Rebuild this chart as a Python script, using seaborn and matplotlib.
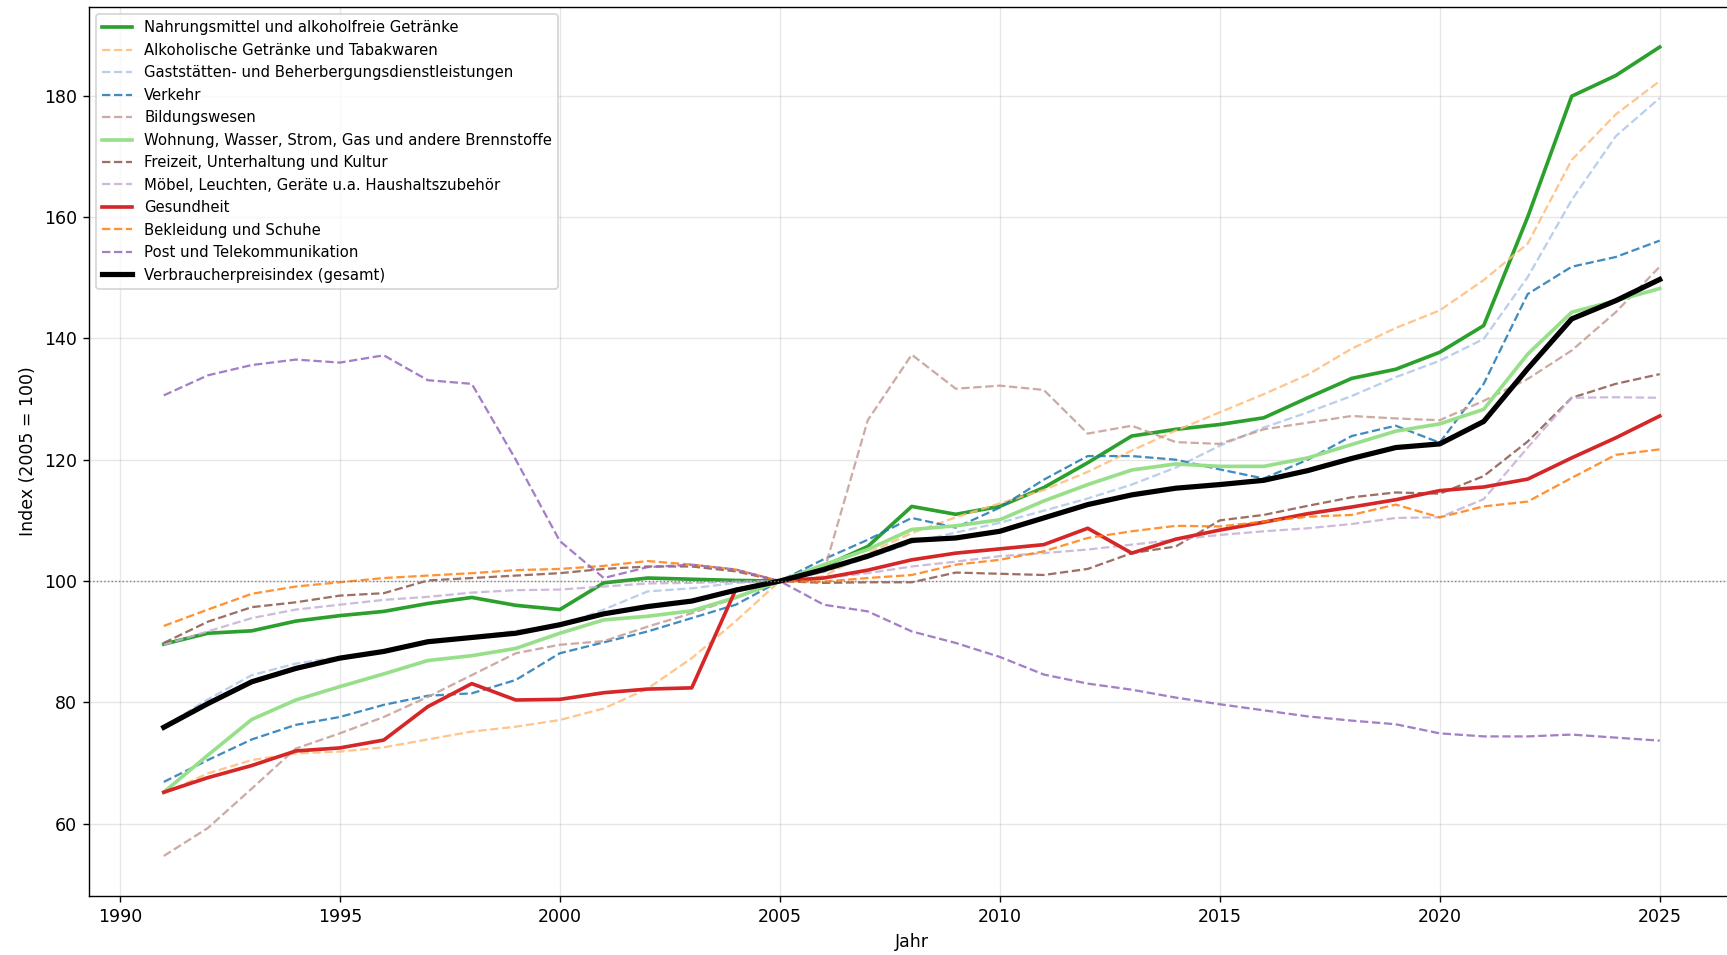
import numpy as np
import pandas as pd
import matplotlib
matplotlib.use("Agg")
import matplotlib.pyplot as plt
import seaborn as sns

years = list(range(1991, 2026))

nahrung = [89.6, 91.4, 91.8, 93.4, 94.3, 95.0, 96.3, 97.3, 96.0, 95.3,
           99.7, 100.5, 100.3, 100.1, 100.0, 102.4, 105.7, 112.3, 111.0, 112.3,
           115.4, 119.5, 123.9, 125.0, 125.8, 126.9, 130.2, 133.4, 134.9, 137.7,
           142.1, 160.0, 179.9, 183.3, 188.0]
alkohol = [65.0, 68.3, 70.5, 71.6, 71.9, 72.6, 73.9, 75.2, 76.0, 77.1,
           79.0, 82.3, 87.3, 93.4, 100.0, 100.8, 104.6, 107.9, 110.5, 112.8,
           115.0, 118.0, 121.5, 124.8, 127.8, 130.8, 134.0, 138.3, 141.7, 144.6,
           149.6, 155.6, 169.4, 176.9, 182.4]
gaststaetten = [76.0, 80.5, 84.5, 86.4, 87.5, 88.3, 89.8, 90.8, 91.8, 92.6,
                95.3, 98.3, 98.8, 99.7, 100.0, 101.5, 103.8, 106.3, 108.0, 109.6,
                111.6, 113.6, 115.9, 118.7, 122.3, 125.3, 127.8, 130.5, 133.6, 136.3,
                139.9, 150.1, 162.8, 173.3, 179.6]
verkehr = [66.9, 70.5, 73.9, 76.3, 77.6, 79.6, 81.1, 81.5, 83.7, 88.1,
           89.9, 91.7, 93.9, 96.1, 100.0, 103.6, 106.8, 110.4, 108.8, 112.1,
           116.7, 120.6, 120.6, 120.0, 118.4, 116.9, 120.0, 123.9, 125.6, 122.8,
           132.5, 147.3, 151.8, 153.4, 156.1]
bildung = [54.7, 59.3, 65.8, 72.4, 74.9, 77.6, 80.9, 84.5, 88.1, 89.5,
           90.1, 92.5, 94.7, 97.2, 100.0, 101.5, 126.5, 137.3, 131.7, 132.2,
           131.5, 124.3, 125.6, 122.9, 122.6, 125.0, 126.1, 127.2, 126.8, 126.5,
           129.7, 133.3, 138.0, 144.3, 151.8]
wohnung = [65.2, 71.3, 77.2, 80.4, 82.6, 84.7, 86.9, 87.7, 88.9, 91.4,
           93.6, 94.2, 95.1, 97.3, 100.0, 102.7, 105.2, 108.5, 109.1, 110.1,
           113.2, 115.9, 118.3, 119.3, 118.9, 118.9, 120.3, 122.5, 124.7, 125.9,
           128.3, 137.4, 144.3, 146.2, 148.2]
freizeit = [89.8, 93.3, 95.7, 96.5, 97.6, 98.0, 100.1, 100.5, 100.9, 101.3,
            102.0, 102.4, 102.4, 101.6, 100.0, 99.7, 99.8, 99.8, 101.4, 101.2,
            101.0, 102.0, 104.6, 105.7, 110.0, 110.9, 112.4, 113.8, 114.6, 114.4,
            117.3, 123.0, 130.2, 132.5, 134.1]
moebel = [89.5, 91.7, 93.9, 95.3, 96.1, 96.9, 97.4, 98.1, 98.5, 98.6,
          99.1, 99.6, 99.7, 99.9, 100.0, 100.5, 101.3, 102.4, 103.2, 104.1,
          104.6, 105.2, 106.0, 106.8, 107.6, 108.2, 108.7, 109.4, 110.4, 110.5,
          113.5, 122.0, 130.2, 130.3, 130.2]
gesundheit = [65.2, 67.6, 69.6, 72.0, 72.5, 73.8, 79.3, 83.1, 80.4, 80.5,
              81.6, 82.2, 82.4, 98.6, 100.0, 100.5, 101.8, 103.5, 104.6, 105.3,
              106.0, 108.7, 104.6, 106.9, 108.4, 109.7, 111.1, 112.2, 113.4, 114.9,
              115.5, 116.8, 120.3, 123.6, 127.2]
bekleidung = [92.6, 95.3, 97.9, 99.1, 99.8, 100.5, 100.9, 101.3, 101.8, 102.0,
              102.5, 103.3, 102.7, 101.9, 100.0, 99.9, 100.5, 101.0, 102.7, 103.5,
              104.9, 107.1, 108.2, 109.1, 109.0, 109.8, 110.6, 110.9, 112.6, 110.5,
              112.3, 113.1, 117.0, 120.8, 121.7]
post = [130.6, 133.9, 135.6, 136.5, 136.0, 137.2, 133.1, 132.5, 120.0, 106.6,
        100.5, 102.3, 102.7, 101.9, 100.0, 96.1, 95.0, 91.7, 89.8, 87.5,
        84.6, 83.1, 82.1, 80.8, 79.7, 78.7, 77.7, 77.0, 76.4, 74.9,
        74.4, 74.4, 74.7, 74.2, 73.7]
vpi = [75.9, 79.8, 83.4, 85.6, 87.3, 88.4, 90.0, 90.7, 91.4, 92.8,
       94.6, 95.8, 96.7, 98.5, 100.0, 101.9, 104.1, 106.7, 107.1, 108.2,
       110.4, 112.6, 114.2, 115.3, 115.9, 116.6, 118.2, 120.2, 122.0, 122.6,
       126.3, 135.0, 143.2, 146.2, 149.7]

labels = [
    "Nahrungsmittel und alkoholfreie Getränke",
    "Alkoholische Getränke und Tabakwaren",
    "Gaststätten- und Beherbergungsdienstleistungen",
    "Verkehr",
    "Bildungswesen",
    "Wohnung, Wasser, Strom, Gas und andere Brennstoffe",
    "Freizeit, Unterhaltung und Kultur",
    "Möbel, Leuchten, Geräte u.a. Haushaltszubehör",
    "Gesundheit",
    "Bekleidung und Schuhe",
    "Post und Telekommunikation",
    "Verbraucherpreisindex (gesamt)",
]
series = [nahrung, alkohol, gaststaetten, verkehr, bildung, wohnung,
          freizeit, moebel, gesundheit, bekleidung, post, vpi]

colors = ["#2ca02c", "#ffbb78", "#aec7e8", "#1f77b4", "#c49c94", "#98df8a",
          "#8c564b", "#c5b0d5", "#d62728", "#ff7f0e", "#9467bd", "black"]
solid = [True, False, False, False, False, True, False, False, True, False, False, True]

rows = []
for lab, vals in zip(labels, series):
    for y, v in zip(years, vals):
        rows.append({"Jahr": y, "Index": v, "Kategorie": lab})
df = pd.DataFrame(rows)

fig = plt.figure(figsize=(1727 / 125, 955 / 125), dpi=125)
ax = fig.add_axes([89 / 1727, 1 - 896 / 955, (1734.5 - 89) / 1727, (896 - 7) / 955])

for lab, col, s in zip(labels, colors, solid):
    sub = df[df["Kategorie"] == lab]
    if lab.startswith("Verbraucher"):
        lw, ls, a = 3.0, "-", 1.0
    elif s:
        lw, ls, a = 2.1, "-", 1.0
    else:
        lw, ls, a = 1.3, "--", 0.85
    sns.lineplot(data=sub, x="Jahr", y="Index", ax=ax, color=col, linewidth=lw,
                 linestyle=ls, alpha=a, label=lab)

ax.axhline(100, color="gray", linestyle=":", linewidth=0.8)
ax.set_xlim(1989.3, 2026.7)
ax.set_ylim(48.1, 194.6)
ax.set_xticks(range(1990, 2026, 5))
ax.set_yticks(range(60, 181, 20))
ax.grid(True, alpha=0.3)
ax.tick_params(labelsize=10)
ax.set_xlabel("Jahr", fontsize=10)
ax.set_ylabel("Index (2005 = 100)", fontsize=10)
ax.set_title("Entwicklung der Verbraucherpreise in Deutschland nach Kategorien (2005 = 100)",
             fontsize=12, pad=7.5)
ax.legend(loc="upper left", fontsize=8.6)

fig.savefig("out.png", dpi=125)
